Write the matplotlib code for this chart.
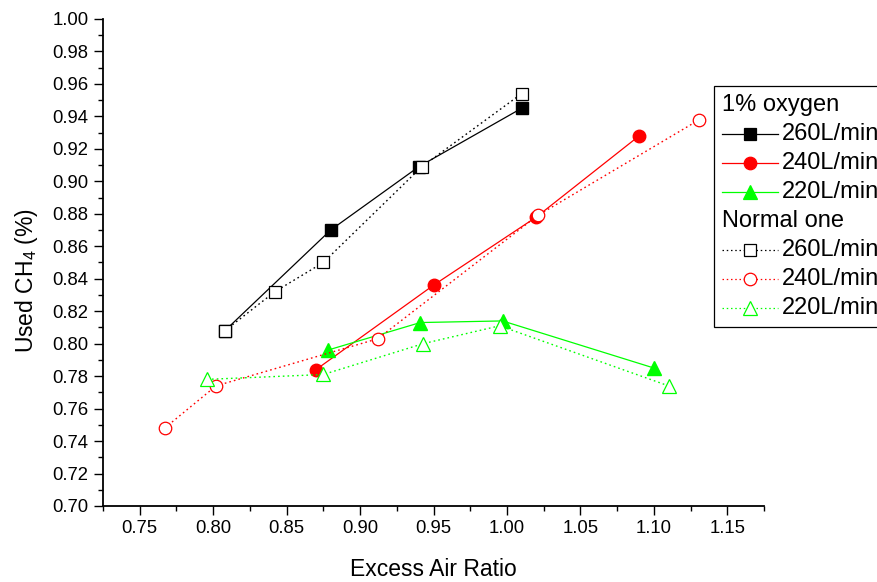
import numpy as np
import matplotlib
matplotlib.use('Agg')
from matplotlib import pyplot as plt
from matplotlib.lines import Line2D
from matplotlib.ticker import MultipleLocator, FormatStrFormatter
from matplotlib.offsetbox import AnchoredOffsetbox, VPacker, HPacker, TextArea, DrawingArea

plt.rcParams['font.family'] = ['Liberation Sans', 'DejaVu Sans']

# excess air ratio vs used CH4, 1% oxygen runs (filled symbols)
x_o2_260 = [0.808, 0.880, 0.940, 1.010]
y_o2_260 = [0.808, 0.870, 0.909, 0.945]
x_o2_240 = [0.870, 0.950, 1.020, 1.090]
y_o2_240 = [0.784, 0.836, 0.878, 0.928]
x_o2_220 = [0.878, 0.941, 0.997, 1.100]
y_o2_220 = [0.796, 0.813, 0.814, 0.785]

# normal runs (open symbols)
x_n_260 = [0.808, 0.842, 0.875, 0.942, 1.010]
y_n_260 = [0.808, 0.832, 0.850, 0.909, 0.954]
x_n_240 = [0.767, 0.802, 0.912, 1.021, 1.131]
y_n_240 = [0.748, 0.774, 0.803, 0.879, 0.938]
x_n_220 = [0.796, 0.875, 0.943, 0.995, 1.110]
y_n_220 = [0.778, 0.781, 0.800, 0.811, 0.774]

flows = ['260L/min', '240L/min', '220L/min']
colors = ['black', 'red', '#00ff00']
markers = ['s', 'o', '^']
msizes = [8, 9, 10]

fig = plt.figure(figsize=(8.78, 5.82), dpi=100)
ax = fig.add_axes([0.1173, 0.1306, 0.7529, 0.8368])

dots = (0, (1.2, 2.2))
series_o2 = [(x_o2_260, y_o2_260), (x_o2_240, y_o2_240), (x_o2_220, y_o2_220)]
series_n = [(x_n_260, y_n_260), (x_n_240, y_n_240), (x_n_220, y_n_220)]

for (xs, ys), c, m, ms in zip(series_o2, colors, markers, msizes):
    ax.plot(xs, ys, color=c, lw=0.9, marker=m, ms=ms, mfc=c, mec=c, zorder=3)
for (xs, ys), c, m, ms in zip(series_n, colors, markers, msizes):
    ax.plot(xs, ys, color=c, lw=1.0, ls=dots, marker=m, ms=ms, mfc='white',
            mec=c, mew=0.9, zorder=4)

ax.set_xlim(0.725, 1.175)
ax.set_ylim(0.70, 1.00)
ax.xaxis.set_major_locator(MultipleLocator(0.05))
ax.xaxis.set_minor_locator(MultipleLocator(0.025))
ax.yaxis.set_major_locator(MultipleLocator(0.02))
ax.yaxis.set_minor_locator(MultipleLocator(0.01))
ax.xaxis.set_major_formatter(FormatStrFormatter('%.2f'))
ax.yaxis.set_major_formatter(FormatStrFormatter('%.2f'))

ax.spines['top'].set_visible(False)
ax.spines['right'].set_visible(False)
ax.spines['left'].set_linewidth(1.3)
ax.spines['bottom'].set_linewidth(1.3)
ax.tick_params(which='major', direction='out', length=6.5, width=1.0, labelsize=13.3)
ax.tick_params(axis='x', which='major', pad=3.5)
ax.tick_params(axis='y', which='major', pad=4)
ax.tick_params(which='minor', direction='out', length=3.6, width=1.0)

ax.set_xlabel('Excess Air Ratio', fontsize=16.5, labelpad=15)
ax.set_ylabel(r'Used CH$_{\mathregular{4}}$ (%)', fontsize=16.5, labelpad=9, y=0.462)

# legend with two group headers
def handle(c, m, ms, open_sym):
    da = DrawingArea(40, 14, 0, 0)
    ls = dots if open_sym else '-'
    da.add_artist(Line2D([0, 40], [7, 7], color=c, lw=0.9, ls=ls))
    da.add_artist(Line2D([20], [7], ls='none', marker=m, ms=ms,
                         mfc='white' if open_sym else c, mec=c, mew=0.9))
    return da

fs = 17
rows = [TextArea('1% oxygen', textprops=dict(size=fs))]
for c, m, ms, lab in zip(colors, markers, msizes, flows):
    rows.append(HPacker(children=[handle(c, m, ms, False),
                                  TextArea(lab, textprops=dict(size=fs))],
                        sep=3, align='center'))
rows.append(TextArea('Normal one', textprops=dict(size=fs)))
for c, m, ms, lab in zip(colors, markers, msizes, flows):
    rows.append(HPacker(children=[handle(c, m, ms, True),
                                  TextArea(lab, textprops=dict(size=fs))],
                        sep=3, align='center'))

box = VPacker(children=rows, sep=5.0, align='left')
leg = AnchoredOffsetbox(loc='upper left', child=box, pad=0.35, borderpad=0,
                        prop=dict(size=fs), frameon=True,
                        bbox_to_anchor=(0.924, 0.862), bbox_transform=ax.transAxes)
leg.patch.set_boxstyle('square', pad=0)
leg.patch.set_edgecolor('black')
leg.patch.set_linewidth(0.9)
ax.add_artist(leg)

plt.savefig('out.png', dpi=100)
plt.close()
